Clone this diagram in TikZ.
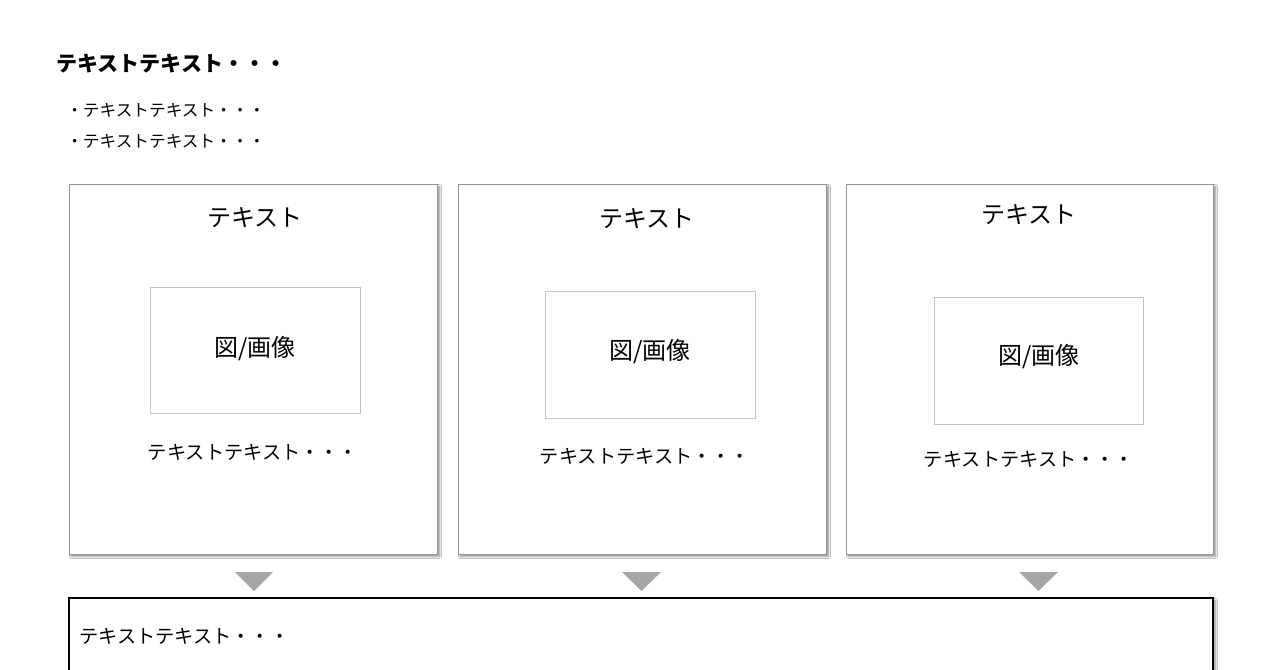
\documentclass[tikz,border=0pt]{standalone}
\usepackage{fontspec}
\setmainfont{Noto Sans CJK JP}
\usetikzlibrary{shadows.blur}
\definecolor{boxline}{HTML}{959595}
\definecolor{imgline}{HTML}{C4C4C4}
\definecolor{trifill}{HTML}{A6A6A6}
\tikzset{
  card/.style={draw=boxline, line width=0.7pt, fill=white, blur shadow={shadow xshift=1.8pt, shadow yshift=-1.8pt, shadow blur radius=1.6pt, shadow opacity=45}},
  imgbox/.style={draw=imgline, line width=0.7pt, fill=white},
  ttl/.style={font=\fontsize{18}{21}\selectfont, inner sep=0pt},
  imgtxt/.style={font=\fontsize{18}{21}\selectfont, inner sep=0pt},
  body/.style={font=\fontsize{14.4}{17}\selectfont, inner sep=0pt},
  arrowtri/.style={fill=trifill, draw=none},
}
\begin{document}
\begin{tikzpicture}[x=0.75pt,y=-0.75pt]
\useasboundingbox (0,0) rectangle (1280,670);
\fill[white] (0,0) rectangle (1280,670);
% heading
\node[anchor=west, inner sep=0pt, font=\fontsize{15.8}{19}\selectfont\bfseries] (head) at (56,64) {テキストテキスト・・・};
\node[anchor=west, inner sep=0pt, font=\fontsize{12.5}{15}\selectfont] (b1) at (66,110) {・テキストテキスト・・・};
\node[anchor=west, inner sep=0pt, font=\fontsize{12.5}{15}\selectfont] (b2) at (66,141) {・テキストテキスト・・・};
% cards
\path[card] (69,184) rectangle (437,554);
\path[card] (458,184) rectangle (826,554);
\path[card] (846,184) rectangle (1213,554);
% image boxes
\path[imgbox] (150,287) rectangle (360,413);
\path[imgbox] (545,291) rectangle (755,418);
\path[imgbox] (934,297) rectangle (1143,424);
% titles
\node[ttl] (t1) at (255,218) {テキスト};
\node[ttl] (t2) at (647,219) {テキスト};
\node[ttl] (t3) at (1029,215) {テキスト};
\node[imgtxt] (i1) at (255,349) {図/画像};
\node[imgtxt] (i2) at (650,352) {図/画像};
\node[imgtxt] (i3) at (1039,357) {図/画像};
\node[body] (d1) at (253,452) {テキストテキスト・・・};
\node[body] (d2) at (645,456) {テキストテキスト・・・};
\node[body] (d3) at (1029,459) {テキストテキスト・・・};
% triangles
\fill[arrowtri] (235,572) -- (273,572) -- (254,591) -- cycle;
\fill[arrowtri] (622,572) -- (661,572) -- (641.5,591) -- cycle;
\fill[arrowtri] (1019,572) -- (1058,572) -- (1038.5,591) -- cycle;
% bottom box
\path[draw=black, line width=0.8pt, fill=white, blur shadow={shadow xshift=1.8pt, shadow yshift=-1.8pt, shadow blur radius=1.6pt, shadow opacity=45}] (69,598) rectangle (1213,690);
\node[body, anchor=west] (bt) at (79,636) {テキストテキスト・・・};
\end{tikzpicture}
\end{document}
